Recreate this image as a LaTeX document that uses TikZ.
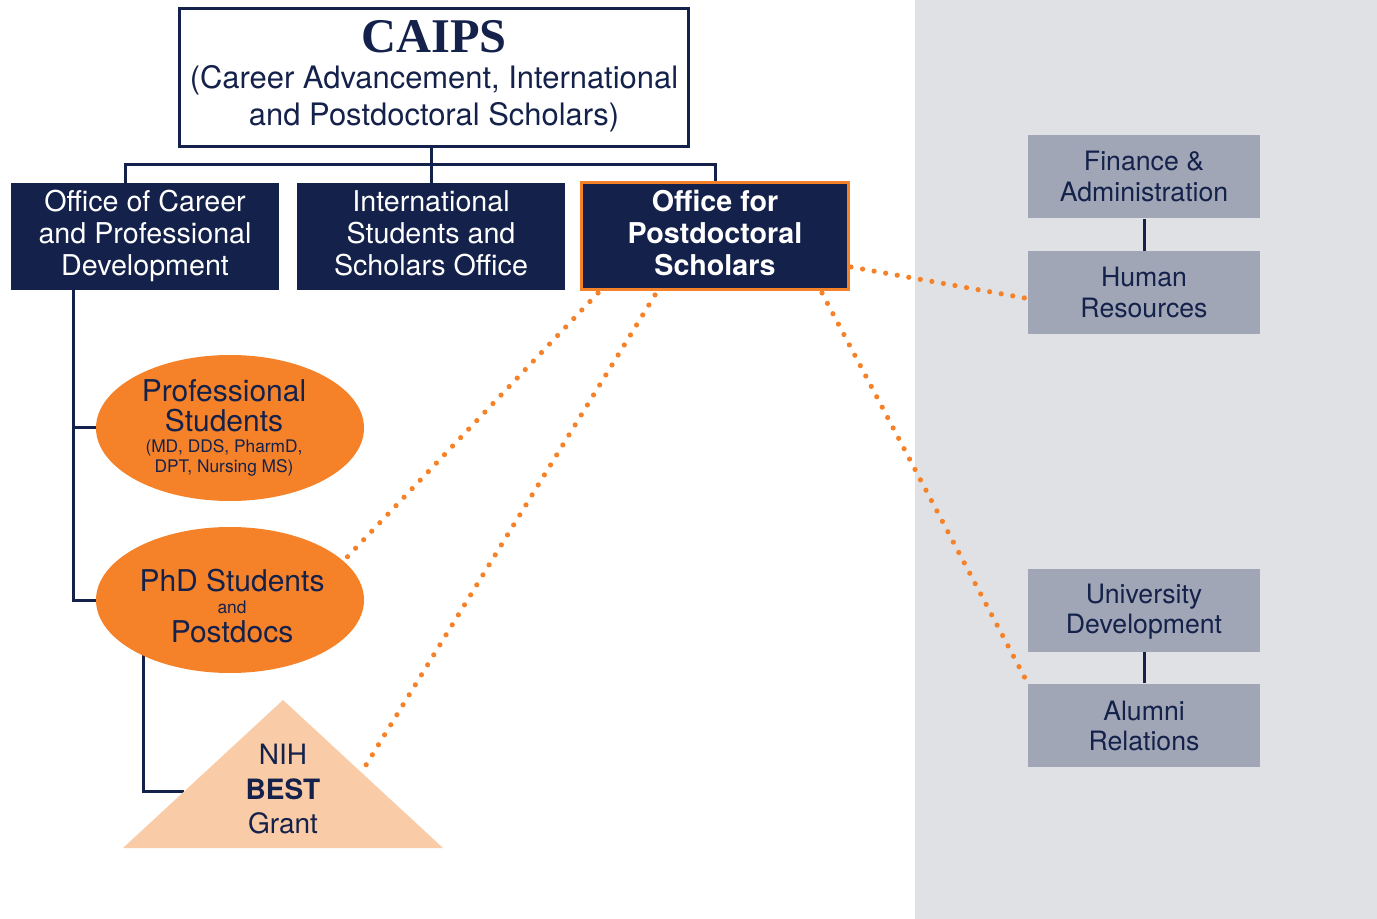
\documentclass[tikz,border=0pt]{standalone}
\usepackage{fontspec}
\setmainfont{TeX Gyre Heros}
\newfontfamily\serifcaips{Liberation Serif}
\usetikzlibrary{shapes.geometric,calc}
\pgfdeclarelayer{panel}
\pgfdeclarelayer{back}
\pgfsetlayers{panel,back,main}
\definecolor{navy}{HTML}{14214A}
\definecolor{orng}{HTML}{F58229}
\definecolor{peach}{HTML}{F9CBA6}
\definecolor{panelgray}{HTML}{E0E1E4}
\definecolor{boxgray}{HTML}{A0A6B6}
\newcommand\fsz[1]{\fontsize{#1}{#1}\selectfont}
\begin{document}
\begin{tikzpicture}[x=0.75pt,y=-0.75pt,
  conn/.style={draw=navy,line width=2.25pt},
  dotline/.style={draw=orng,line width=3.9pt,line cap=round,dash pattern=on 0pt off 8.8pt},
  navybox/.style={rectangle,fill=navy,inner sep=0,minimum width=201pt,minimum height=80.25pt},
  graybox/.style={rectangle,fill=boxgray,inner sep=0,minimum width=174pt,minimum height=62.25pt},
  oval/.style={ellipse,fill=orng,inner sep=0,minimum width=201pt,minimum height=109.5pt},
  txt/.style={anchor=base,inner sep=0,outer sep=0},
  wtxt/.style={txt,text=white,font=\fsz{21.5}},
  btxt/.style={txt,text=white,font=\bfseries\fsz{21.5}},
  gtxt/.style={txt,text=navy,font=\fsz{20}},
  otxt/.style={txt,text=navy,font=\fsz{22.5}},
  stxt/.style={txt,text=navy,font=\fsz{13}},
  ttxt/.style={txt,text=navy,font=\fsz{21}},
]
\useasboundingbox (0,0) rectangle (1377,919);
\begin{pgfonlayer}{panel}
\fill[panelgray] (915,0) rectangle (1377,919);
\end{pgfonlayer}

% top box
\node[rectangle,draw=navy,line width=2.4pt,fill=white,inner sep=0,minimum width=381.75pt,minimum height=103.5pt] (caips) at (434,77.5) {};
\node[txt,text=navy,font=\serifcaips\bfseries\fsz{36.3}] (caipsT) at (434,53) {CAIPS};
\node[txt,text=navy,font=\fsz{23.2}] (sub1) at (434,89) {(Career Advancement, International};
\node[txt,text=navy,font=\fsz{23.2}] (sub2) at (434,126) {and Postdoctoral Scholars)};

% offices
\node[navybox] (ocpd) at (145,236.5) {};
\node[wtxt] (ocpd1) at (145,212) {Office of Career};
\node[wtxt] (ocpd2) at (145,244) {and Professional};
\node[wtxt] (ocpd3) at (145,276) {Development};

\node[navybox] (isso) at (431,236.5) {};
\node[wtxt] (isso1) at (431,212) {International};
\node[wtxt] (isso2) at (431,244) {Students and};
\node[wtxt] (isso3) at (431,276) {Scholars Office};

\node[navybox,draw=orng,line width=2.25pt,minimum width=200.25pt] (opd) at (715,236) {};
\node[btxt] (opd1) at (715,212) {Office for};
\node[btxt] (opd2) at (715,244) {Postdoctoral};
\node[btxt] (opd3) at (715,276) {Scholars};

% gray boxes
\node[graybox] (fin) at (1144,177) {};
\node[gtxt] (fin1) at (1144,171) {Finance \&};
\node[gtxt] (fin2) at (1144,202) {Administration};
\node[graybox] (hr) at (1144,293) {};
\node[gtxt] (hr1) at (1144,287) {Human};
\node[gtxt] (hr2) at (1144,318) {Resources};
\node[graybox] (ud) at (1144,610) {};
\node[gtxt] (ud1) at (1144,603) {University};
\node[gtxt] (ud2) at (1144,633) {Development};
\node[graybox] (alu) at (1144,725) {};
\node[gtxt] (alu1) at (1144,720) {Alumni};
\node[gtxt] (alu2) at (1144,750) {Relations};

% ellipses
\node[oval] (prof) at (230,428) {};
\node[otxt] (prof1) at (224,402) {Professional};
\node[otxt] (prof2) at (224,432) {Students};
\node[stxt] (prof3) at (224,452) {(MD, DDS, PharmD,};
\node[stxt] (prof4) at (224,472) {DPT, Nursing MS)};

\node[oval] (phd) at (230,600) {};
\node[otxt] (phd1) at (232,591) {PhD Students};
\node[stxt] (phd2) at (232,613) {and};
\node[otxt] (phd3) at (232,642) {Postdocs};

% triangle
\fill[peach] (283,700) coordinate (apex) -- (443,848) coordinate (br) -- (123,848) coordinate (bl) -- cycle;
\coordinate (trileft) at ($(bl)!0.38!(apex)$);
\coordinate (triright) at ($(apex)!0.49!(br)$);
\node[ttxt] (nih1) at (283,764) {NIH};
\node[ttxt,font=\bfseries\fsz{21}] (nih2) at (283,799) {BEST};
\node[ttxt] (nih3) at (283,833) {Grant};

\begin{pgfonlayer}{back}
\coordinate (bus) at (432,165);
\draw[conn] ($(ocpd.north)+(-20,0)$) |- (bus) -| (opd.north);
\draw[conn] (isso.north) -- (isso.north |- caips.south);
\draw[conn] ($(ocpd.south west)+(63,0)$) |- (prof.west);
\draw[conn] ($(ocpd.south west)+(63,0)$) |- (phd.west);
\draw[conn] ($(phd.center)+(-87,0)$) |- (trileft);
\draw[conn] (fin.south) -- (hr.north);
\draw[conn] (ud.south) -- (alu.north);
\draw[dotline] ($(opd.south west)+(18,2)$) -- (phd.19);
\draw[dotline] ($(opd.south west)+(75,4)$) -- (triright);
\draw[dotline] ($(opd.south west)+(242,2)$) -- (alu.north west);
\draw[dotline] ($(opd.east)+(1,31)$) -- ($(hr.west)+(-3,5)$);
\end{pgfonlayer}
\end{tikzpicture}
\end{document}
